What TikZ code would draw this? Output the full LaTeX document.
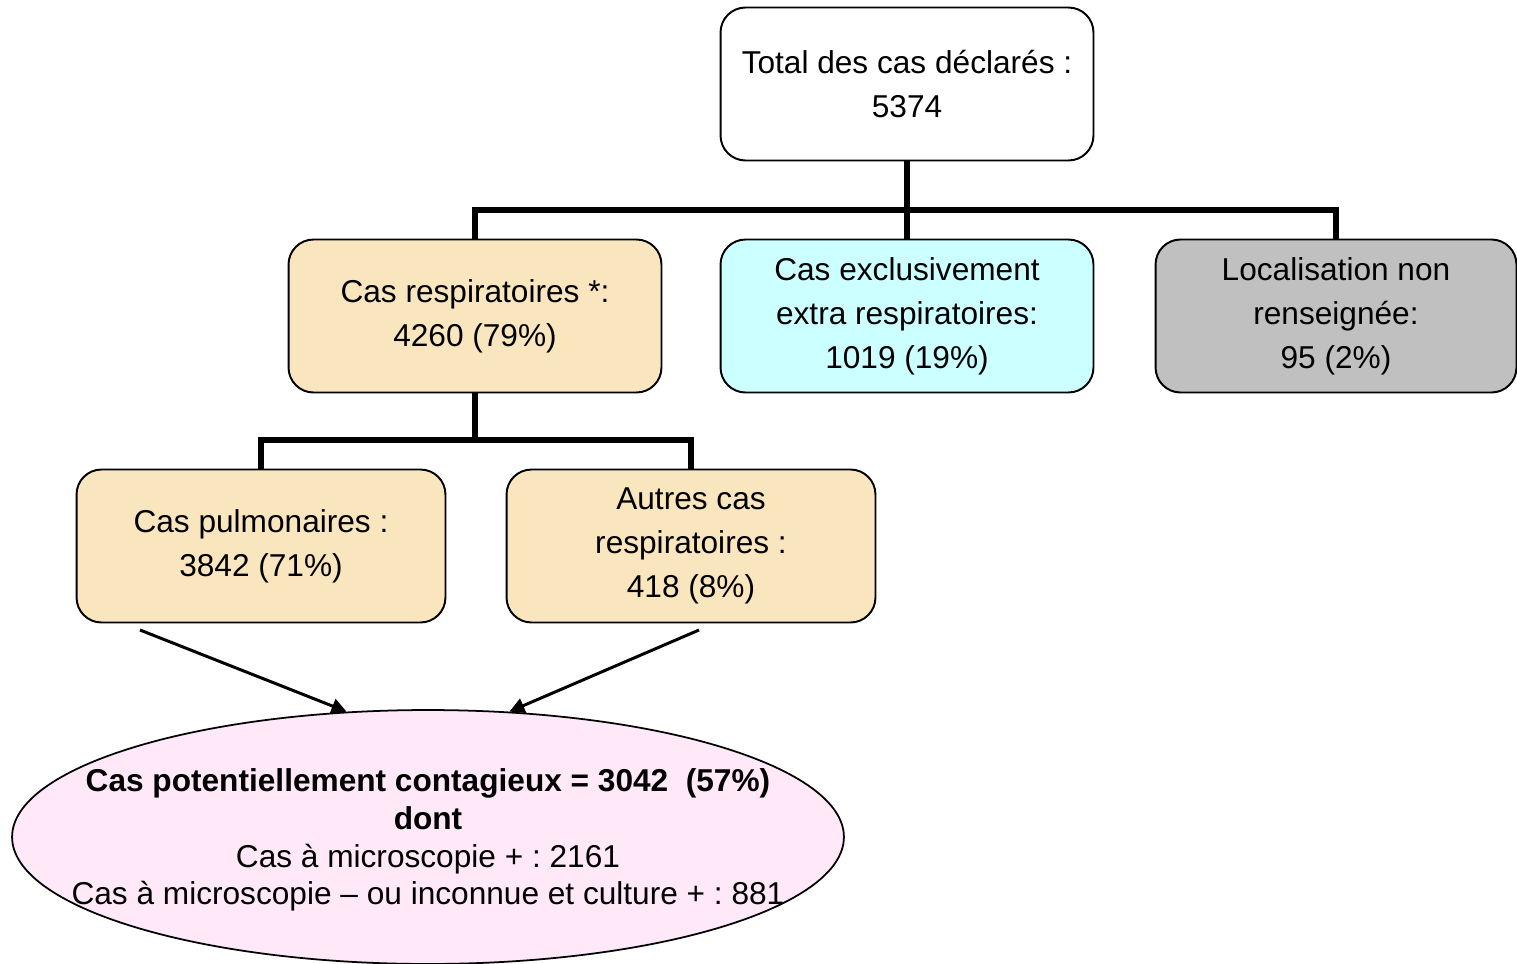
\documentclass[tikz,border=0pt]{standalone}
\usepackage{fontspec}
\setmainfont{Liberation Sans}
\usetikzlibrary{shapes.geometric,arrows.meta}
\definecolor{respfill}{RGB}{250,230,190}
\definecolor{extrafill}{RGB}{204,255,255}
\definecolor{locfill}{RGB}{192,192,192}
\definecolor{contagfill}{RGB}{255,232,248}
\frenchspacing
\begin{document}
\begin{tikzpicture}[x=0.02cm,y=-0.02cm,
    casbox/.style={draw,rounded corners=0.5cm,line width=1.1pt,minimum width=7.46cm,minimum height=3.06cm,align=center,inner sep=0pt,font=\fontsize{18}{25}\selectfont},
    tree/.style={line width=3.1pt},
    flow/.style={line width=1.7pt,-{Triangle[length=3mm,width=3mm]}}]
    \useasboundingbox (0,0) rectangle (1517,963);
    %boxes
    \node (total) at (907,84) [casbox,fill=white]{Total des cas déclarés :\\5374};
    \node (resp) at (475,316) [casbox,fill=respfill]{Cas respiratoires *:\\4260 (79\%)};
    \node (extra) at (907,316) [casbox,fill=extrafill]{Cas exclusivement\\extra respiratoires:\\1019 (19\%)};
    \node (loc) at (1336,316) [casbox,fill=locfill,minimum width=7.22cm]{Localisation non\\renseignée:\\95 (2\%)};
    \node (pulm) at (261,546) [casbox,fill=respfill,minimum width=7.38cm]{Cas pulmonaires :\\3842 (71\%)};
    \node (autres) at (691,546) [casbox,fill=respfill,minimum width=7.38cm]{Autres cas\\respiratoires :\\418 (8\%)};
    \node (contag) at (428,837) [ellipse,draw,line width=1pt,fill=contagfill,minimum width=16.64cm,minimum height=5.08cm,inner sep=0pt,
        label={[align=center,font=\fontsize{18}{21.5}\selectfont,yshift=-0.06cm]center:\textbf{Cas potentiellement contagieux = 3042\ \ (57\%)}\\\textbf{dont}\\Cas à microscopie + : 2161\\Cas à microscopie – ou inconnue et culture + : 881}]{};

    %tree
    \coordinate (fork) at (910,210);
    \coordinate (split) at (475,440);
    \draw [tree] (total.south) to (extra.north);
    \draw [tree] (resp.north) |- (fork) -| (loc.north);
    \draw [tree] (resp.south) to (split);
    \draw [tree] (pulm.north) |- (split) -| (autres.north);

    %arrows to contagious cases
    \coordinate (pulmout) at (140,630);
    \coordinate (autresout) at (699,630);
    \draw [flow] (pulmout) to (contag.123);
    \draw [flow] (autresout) to (contag.57);
\end{tikzpicture}
\end{document}
